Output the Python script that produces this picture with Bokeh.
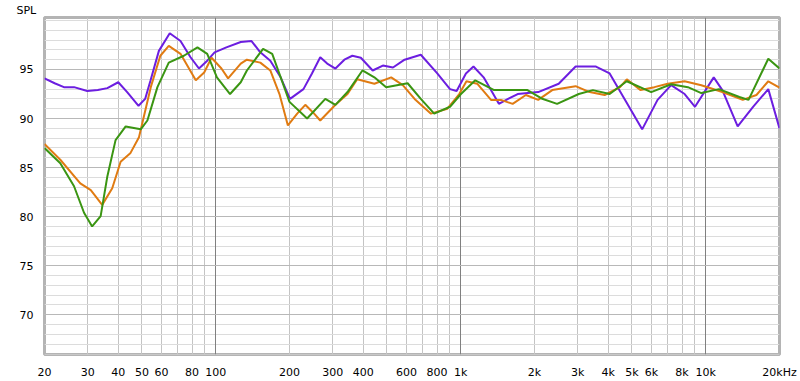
from bokeh.plotting import figure
from bokeh.models import FixedTicker, Grid, Range1d
from bokeh.embed import file_html
from bokeh.resources import INLINE

# ---- data ----
purple_f = [20, 22, 24, 26.4, 29.9, 33, 36.1, 40, 43.5, 48.4, 51.5, 54.2, 58.6, 64.9, 71.8, 78.9,
            85.4, 92.3, 98.9, 110.5, 126.5, 140, 152, 167, 184, 201, 228, 247, 267, 285, 308, 335,
            361, 391, 437, 481, 529, 590, 687, 802, 904, 962, 1050, 1127, 1240, 1431, 1560, 1707,
            2071, 2511, 2943, 3565, 4053, 4610, 5501, 6357, 7224, 8200, 9040, 10780, 11690, 13500,
            15600, 18000, 20000]
purple_db = [94.1, 93.6, 93.2, 93.2, 92.8, 92.9, 93.1, 93.7, 92.7, 91.3, 92.0, 93.9, 96.9, 98.7, 97.9, 96.25,
             95.1, 95.9, 96.75, 97.25, 97.8, 97.9, 96.75, 95.9, 94.2, 92.0, 93.0, 94.6, 96.25, 95.6, 95.1, 96.0,
             96.4, 96.2, 94.9, 95.4, 95.2, 96.0, 96.5, 94.6, 93.0, 92.8, 94.6, 95.3, 94.2, 91.5, 92.0, 92.5,
             92.7, 93.55, 95.3, 95.3, 94.6, 92.2, 88.9, 91.9, 93.4, 92.5, 91.2, 94.2, 92.9, 89.2,
             91.2, 93.0, 89.0]

orange_f = [20, 23.2, 28, 30.9, 34.4, 37.8, 40.9, 44.9, 48.6, 54.3, 59.4, 64.3, 71.8, 82.9, 89.7, 96.1,
            105.5, 112.3, 126.5, 134, 152, 167, 182, 197, 215, 232, 250, 267, 308, 345, 378, 444, 520,
            580, 648, 756, 882, 986, 1055, 1167, 1329, 1458, 1629, 1844, 2071, 2363, 2943, 3358, 3867,
            4468, 4760, 5422, 6171, 6993, 8200, 9590, 11690, 14160, 16100, 18000, 20000]
orange_db = [87.4, 85.8, 83.4, 82.7, 81.2, 82.9, 85.6, 86.5, 88.1, 93.2, 96.4, 97.4, 96.6, 93.9, 94.7, 96.2,
             95.1, 94.1, 95.6, 96.0, 95.7, 94.9, 92.5, 89.3, 90.5, 91.4, 90.6, 89.8, 91.4, 92.5, 94.0, 93.55, 94.2,
             93.4, 92.0, 90.5, 91.0, 92.5, 93.8, 93.55, 91.9, 91.9, 91.5, 92.4, 91.9, 92.9, 93.3, 92.7, 92.4,
             93.2, 94.0, 92.9, 93.2, 93.55, 93.8, 93.4, 92.7, 91.9, 92.4, 93.8, 93.15]

green_f = [20, 23.2, 26.4, 29.0, 31.3, 33.9, 36.1, 39.0, 42.9, 49.4, 52.6, 57.8, 64.3, 74.1, 84.2, 92.3,
           101.1, 114.4, 126.5, 134, 156, 170, 186, 200, 236, 280, 308, 345, 397, 444, 496, 607, 687,
           779, 904, 1002, 1146, 1368, 1872, 2136, 2473, 3032, 3461, 4053, 4760, 5990, 7224, 8457,
           9590, 11320, 13720, 14950, 18000, 20000]
green_db = [87.0, 85.45, 83.1, 80.4, 79.0, 80.05, 84.1, 87.8, 89.2, 88.9, 89.8, 93.2, 95.7, 96.4, 97.25, 96.6,
            94.2, 92.5, 93.7, 94.9, 97.1, 96.6, 93.9, 91.7, 90.0, 92.0, 91.4, 92.7, 94.9, 94.2, 93.2, 93.6, 92.0,
            90.5, 91.2, 92.5, 93.9, 92.9, 92.9, 92.05, 91.5, 92.5, 92.9, 92.5, 93.8, 92.7, 93.5, 93.2,
            92.6, 93.0, 92.2, 91.9, 96.1, 95.1]

x_ticks = [20, 30, 40, 50, 60, 80, 100, 200, 300, 400, 600, 800, 1000, 2000, 3000, 4000, 5000,
           6000, 8000, 10000, 20000]
x_tick_labels = ["20", "30", "40", "50", "60", "80", "100", "200", "300", "400", "600", "800", "1k",
                 "2k", "3k", "4k", "5k", "6k", "8k", "10k", "20kHz"]
y_ticks = [70, 75, 80, 85, 90, 95]

FONT = "DejaVu Sans"

p = figure(width=800, height=381, x_axis_type="log", output_backend="svg", toolbar_location=None,
           x_range=Range1d(20, 20000), y_range=Range1d(65.95, 100.3),
           min_border_left=44, min_border_right=21, min_border_top=17, min_border_bottom=25,
           title="SPL")
p.background_fill_color = "white"
p.border_fill_color = "white"
p.outline_line_color = "#b4b4b4"
p.outline_line_width = 3

p.title.text_font = FONT
p.title.text_font_size = "11px"
p.title.text_font_style = "normal"
p.title.text_color = "#000000"
p.title.align = "left"
p.title.offset = -28
p.title.standoff = 2

# grids
minor_x = []
for dec in [10, 100, 1000, 10000]:
    for m in range(1, 10):
        v = dec * m
        if 20 <= v <= 20000:
            minor_x.append(v)
p.xgrid.ticker = FixedTicker(ticks=minor_x)
p.xgrid.grid_line_color = "#c4c4c4"
p.xgrid.grid_line_width = 1
p.add_layout(Grid(dimension=0, ticker=FixedTicker(ticks=[100, 1000, 10000]),
                  grid_line_color="#808080", grid_line_width=1))
p.ygrid.ticker = FixedTicker(ticks=list(range(66, 101)))
p.ygrid.grid_line_color = "#dcdcdc"
p.add_layout(Grid(dimension=1, ticker=FixedTicker(ticks=y_ticks),
                  grid_line_color="#b8b8b8", grid_line_width=1))

# axes
p.xaxis.ticker = FixedTicker(ticks=x_ticks)
p.xaxis.major_label_overrides = {t: l for t, l in zip(x_ticks, x_tick_labels)}
p.yaxis.ticker = FixedTicker(ticks=y_ticks)
for ax in (p.xaxis[0], p.yaxis[0]):
    ax.axis_line_color = None
    ax.major_tick_line_color = None
    ax.minor_tick_line_color = None
    ax.major_label_text_font = FONT
    ax.major_label_text_font_size = "11px"
    ax.major_label_text_color = "#000000"
    ax.major_label_standoff = 5

p.line(purple_f, purple_db, line_color="#6c1ee0", line_width=2)
p.line(orange_f, orange_db, line_color="#e07b12", line_width=2)
p.line(green_f, green_db, line_color="#3a9512", line_width=2)

open("out.html", "w").write(file_html(p, INLINE))
